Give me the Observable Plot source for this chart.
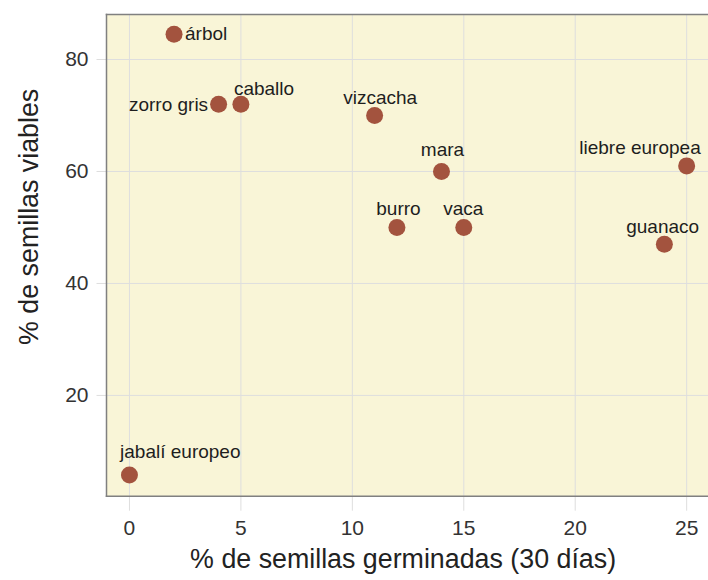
<!DOCTYPE html>
<html>
<head>
<meta charset="utf-8">
<script src="https://cdn.jsdelivr.net/npm/d3@7"></script>
<script src="https://cdn.jsdelivr.net/npm/@observablehq/plot@0.6"></script>
<style>
  html, body { margin: 0; padding: 0; background: #ffffff; }
  #chart svg { display: block; }
</style>
</head>
<body>
<div id="chart"></div>
<script>
// ---- data ----
const animals = ["árbol", "zorro gris", "caballo", "vizcacha", "mara", "burro", "vaca", "liebre europea", "guanaco", "jabalí europeo"];
const germinated = [2, 4, 5, 11, 14, 12, 15, 25, 24, 0];
const viable = [84.5, 72, 72, 70, 60, 50, 50, 61, 47, 5.8];
const xTicks = [0, 5, 10, 15, 20, 25];
const yTicks = [20, 40, 60, 80];
const xTitle = "% de semillas germinadas (30 días)";
const yTitle = "% de semillas viables";

// ---- label layout (pixel offsets, not data) ----
const labelLayout = {
  "árbol": [11, -0.5, "start"],
  "zorro gris": [-10.5, 0.9, "end"],
  "caballo": [-7, -15.1, "start"],
  "vizcacha": [5.5, -17.8, "middle"],
  "mara": [1, -21.1, "middle"],
  "burro": [1.5, -18.1, "middle"],
  "vaca": [-0.5, -18.1, "middle"],
  "liebre europea": [-46.7, -18.2, "middle"],
  "guanaco": [-1.7, -17.2, "middle"],
  "jabalí europeo": [-9.4, -23.3, "start"]
};

const rows = animals.map((a, i) => ({animal: a, x: germinated[i], y: viable[i]}));

const bg = "#f9f5d7";
const gridColor = "#dedede";
const frameColor = "#808080";
const dotColor = "#a3533e";

const labelMarks = rows.map(r => {
  const [dx, dy, anchor] = labelLayout[r.animal];
  return Plot.text([r], {x: "x", y: "y", text: "animal", dx, dy, textAnchor: anchor,
    fontSize: 19, fill: "#1e1e1e"});
});

const chart = Plot.plot({
  width: 708,
  height: 580,
  marginLeft: 106,
  marginRight: 0,
  marginTop: 14,
  marginBottom: 84.3,
  style: {fontFamily: "'Liberation Sans', Arial, sans-serif", background: "#ffffff", overflow: "visible"},
  x: {domain: [-1.03, 25.98]},
  y: {domain: [2.0, 88.04]},
  marks: [
    Plot.frame({fill: bg, stroke: null}),
    Plot.gridX(xTicks, {stroke: gridColor, strokeOpacity: 1, strokeWidth: 1}),
    Plot.gridY(yTicks, {stroke: gridColor, strokeOpacity: 1, strokeWidth: 1}),
    Plot.axisX(xTicks, {tickSize: 15, tickPadding: 9, stroke: gridColor, strokeOpacity: 1, fill: "#333333", fontSize: 21, label: null, tickFormat: d => String(d)}),
    Plot.axisY(yTicks, {tickSize: 9.5, tickPadding: 8.5, stroke: gridColor, strokeOpacity: 1, fill: "#333333", fontSize: 21, label: null, tickFormat: d => String(d)}),
    Plot.frame({anchor: "top", stroke: frameColor, strokeWidth: 1.5}),
    Plot.frame({anchor: "left", stroke: frameColor, strokeWidth: 1.5}),
    Plot.frame({anchor: "bottom", stroke: frameColor, strokeWidth: 1.5}),
    Plot.dot(rows, {x: "x", y: "y", r: 8.5, fill: dotColor, stroke: null}),
    ...labelMarks,
    Plot.text([xTitle], {frameAnchor: "bottom", dx: -4.4, dy: 72, text: d => d, fontSize: 26.8, fill: "#222222", textAnchor: "middle"}),
    Plot.text([yTitle], {frameAnchor: "left", dx: -77.3, dy: -38.5, text: d => d, fontSize: 26.8, fill: "#222222", rotate: -90, textAnchor: "middle"})
  ]
});
document.getElementById("chart").appendChild(chart);
</script>
</body>
</html>
